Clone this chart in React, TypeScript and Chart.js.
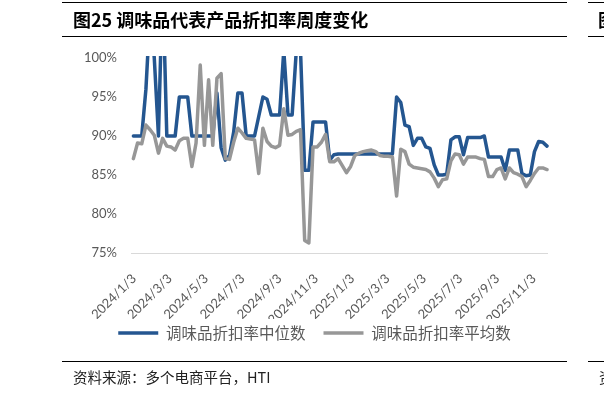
import React, { useEffect, useRef } from "react";
import { Chart, registerables } from "chart.js";

Chart.register(...registerables);

// weekly observations start here
const START_DATE = "2024/1/7";
const AXIS_START = "2024/1/3";
const AXIS_END = "2025/11/30";

const TICK_LABELS = [
  "2024/1/3", "2024/3/3", "2024/5/3", "2024/7/3", "2024/9/3", "2024/11/3",
  "2025/1/3", "2025/3/3", "2025/5/3", "2025/7/3", "2025/9/3", "2025/11/3",
];
const Y_TICKS = [75, 80, 85, 90, 95, 100];
const SERIES_NAMES = ["调味品折扣率中位数", "调味品折扣率平均数"];

const MEDIAN = [
  90, 90, 90, 96, 106, 100, 90, 110, 90, 90,
  90, 95, 95, 95, 90, 90, 90, 90, 90, 90,
  95.5, 88.5, 86.9, 87.5, 90.5, 95.5, 95.5, 90, 90, 90,
  92.5, 95, 94.7, 92.7, 92.7, 92.7, 101, 92.7, 92.7, 101,
  101, 85.6, 85.6, 91.8, 91.8, 91.8, 91.8, 86.9, 87.6, 87.7,
  87.7, 87.7, 87.7, 87.7, 87.7, 87.7, 87.7, 87.7, 87.7, 87.7,
  87.7, 87.7, 87.7, 95, 94.3, 91.4, 91.2, 88.8, 89.7, 89.7,
  88.6, 88.4, 86.3, 85, 85, 85.1, 89.5, 89.9, 89.9, 87.6,
  89.8, 89.8, 89.8, 89.8, 90, 87.3, 87.3, 87.3, 87.3, 85.6,
  88.2, 88.2, 88.2, 85.2, 84.9, 85, 88, 89.3, 89.2, 88.7,
];

const MEAN = [
  87.1, 89.1, 89, 91.4, 90.8, 90.1, 87.8, 89.7, 88.7, 88.6,
  88.2, 89.4, 89.7, 89.7, 86.1, 89.1, 99.1, 88.8, 97.2, 88.8,
  97.4, 98, 87.1, 87, 89.2, 91, 90.4, 89.7, 89.6, 89.5,
  85.2, 91, 89.3, 88.7, 88.5, 88.8, 93.5, 90.1, 90.2, 90.6,
  90.8, 76.6, 76.3, 88.6, 88.6, 89.2, 90.2, 86.7, 86.7, 87.1,
  86.2, 85.3, 86.1, 87.5, 87.8, 88, 88.1, 88.2, 88, 87.5,
  87.4, 87.4, 87.3, 82.3, 88.3, 88, 86.4, 86, 85.9, 85.8,
  85.7, 85.4, 84.6, 83.5, 84.4, 84.5, 86.8, 87.7, 87.6, 86.4,
  87.3, 87.3, 87.3, 87.1, 87, 84.8, 84.8, 85.7, 85.9, 84.5,
  85.9, 85.3, 85.1, 84.8, 83.5, 84.3, 85.2, 85.9, 85.9, 85.7,
];

const BLUE = "#245690";
const GRAY = "#979797";

function dayOf(s: string): number {
  const [y, m, d] = s.split("/").map(Number);
  return Date.UTC(y, m - 1, d) / 86400000;
}

// lift the legend a little so it sits closer to the rotated axis labels
const legendLift = {
  id: "legendLift",
  afterLayout(chart: any) {
    if (chart.legend) {
      chart.legend.top -= 11.75;
      chart.legend.bottom -= 11.75;
    }
  },
};

export default function App() {
  const ref = useRef<HTMLCanvasElement>(null);

  useEffect(() => {
    if (!ref.current) return;
    const base = dayOf(START_DATE);
    const toPts = (arr: number[]) => arr.map((v, i) => ({ x: base + 7 * i, y: v }));
    const tickDays = TICK_LABELS.map(dayOf);

    const lineStyle = {
      borderWidth: 3.5,
      pointRadius: 0,
      pointHoverRadius: 0,
      tension: 0,
      borderCapStyle: "round" as const,
      borderJoinStyle: "round" as const,
      clip: 2,
    };

    const chart = new Chart(ref.current, {
      type: "line",
      plugins: [legendLift],
      data: {
        datasets: [
          {
            label: SERIES_NAMES[0],
            data: toPts(MEDIAN),
            borderColor: BLUE,
            backgroundColor: BLUE,
            order: 1,
            ...lineStyle,
          },
          {
            label: SERIES_NAMES[1],
            data: toPts(MEAN),
            borderColor: GRAY,
            backgroundColor: GRAY,
            order: 0,
            ...lineStyle,
          },
        ],
      },
      options: {
        animation: false,
        responsive: false,
        devicePixelRatio: 1,
        layout: { padding: { left: 82, right: 57, top: 58, bottom: 30.5 } },
        plugins: {
          tooltip: { enabled: false },
          legend: {
            position: "bottom",
            align: "center",
            labels: {
              usePointStyle: true,
              pointStyle: "line",
              pointStyleWidth: 40,
              padding: 18,
              color: "#595959",
              font: { family: "'Noto Sans CJK SC', sans-serif", size: 15.5 },
              sort: (a: any, b: any) => a.datasetIndex - b.datasetIndex,
            },
          },
        },
        scales: {
          x: {
            type: "linear",
            min: dayOf(AXIS_START),
            max: dayOf(AXIS_END),
            grid: { display: false, drawTicks: false },
            border: { display: true, color: "#d9d9d9", width: 1 },
            afterBuildTicks: (s: any) => {
              s.ticks = tickDays.map((v) => ({ value: v }));
            },
            afterFit: (s: any) => {
              s.height = 66;
            },
            ticks: {
              autoSkip: false,
              minRotation: 45,
              maxRotation: 45,
              padding: 18,
              labelOffset: 3,
              color: "#595959",
              font: { family: "Lato, sans-serif", size: 13 },
              callback: (v: any) => {
                const i = tickDays.indexOf(Number(v));
                return i >= 0 ? TICK_LABELS[i] : "";
              },
            },
          },
          y: {
            min: 75,
            max: 100,
            afterBuildTicks: (s: any) => {
              s.ticks = Y_TICKS.map((v) => ({ value: v }));
            },
            afterFit: (s: any) => {
              s.width = 49;
            },
            grid: { display: false, drawTicks: false },
            border: { display: false },
            ticks: {
              padding: 14,
              color: "#595959",
              font: { family: "Lato, sans-serif", size: 13 },
              callback: (v: any) => `${v}%`,
            },
          },
        },
      },
    });
    return () => chart.destroy();
  }, []);

  const rule = (left: number, top: number, width: number): React.CSSProperties => ({
    position: "absolute",
    left,
    top,
    width,
    height: 1,
    background: "#000",
  });

  const titleStyle: React.CSSProperties = {
    position: "absolute",
    top: 8,
    lineHeight: "22px",
    fontFamily: "'Noto Sans CJK SC', sans-serif",
    fontWeight: 700,
    fontSize: 18,
    color: "#000",
    whiteSpace: "nowrap",
  };
  const sourceStyle: React.CSSProperties = {
    position: "absolute",
    top: 367,
    lineHeight: "20px",
    fontFamily: "'Noto Sans CJK SC', sans-serif",
    fontSize: 14.5,
    color: "#222",
    whiteSpace: "nowrap",
  };

  return (
    <div
      style={{
        position: "absolute",
        left: 0,
        top: 0,
        width: 604,
        height: 393,
        background: "#fff",
        overflow: "hidden",
      }}
    >
      <canvas
        ref={ref}
        width={604}
        height={393}
        style={{ position: "absolute", left: 0, top: 0, width: 604, height: 393 }}
      />
      <div style={rule(62, 2, 505)} />
      <div style={rule(62, 36, 505)} />
      <div style={rule(62, 361, 505)} />
      <div style={rule(588, 2, 16)} />
      <div style={rule(588, 36, 16)} />
      <div style={rule(588, 361, 16)} />
      <div style={{ ...titleStyle, left: 73 }}>图25 调味品代表产品折扣率周度变化</div>
      <div style={{ ...titleStyle, left: 598 }}>图</div>
      <div style={{ ...sourceStyle, left: 73 }}>资料来源：多个电商平台，HTI</div>
      <div style={{ ...sourceStyle, left: 599 }}>资</div>
    </div>
  );
}
